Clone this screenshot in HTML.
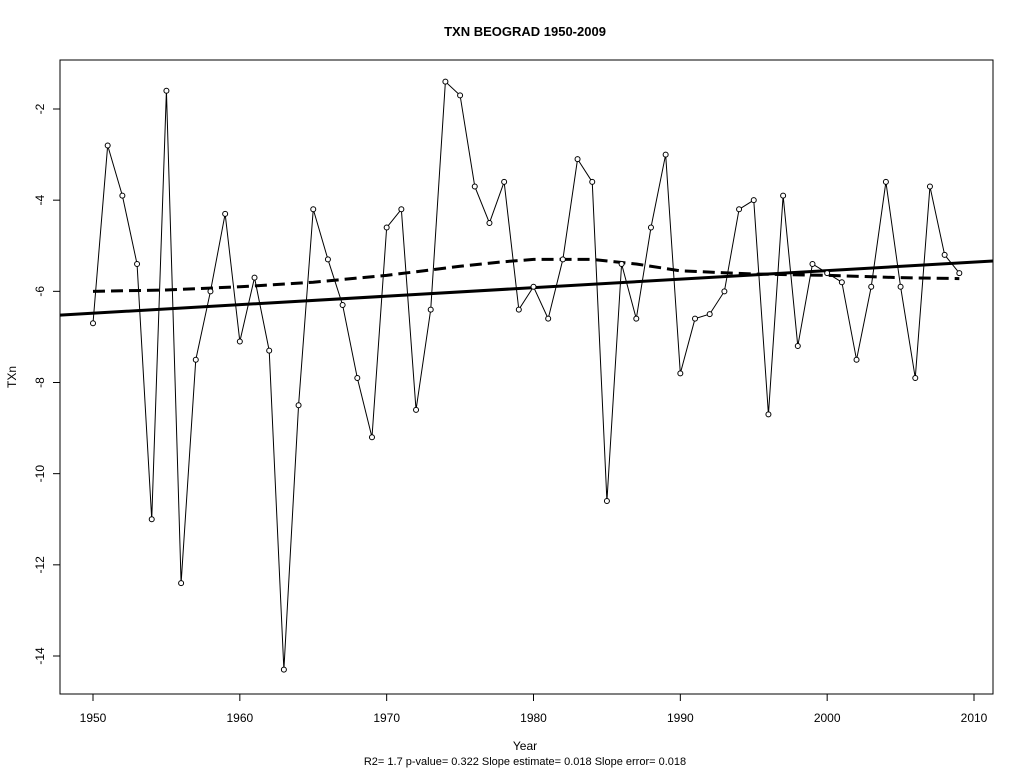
<!DOCTYPE html>
<html><head><meta charset="utf-8"><style>
body{margin:0;background:#fff}
svg{display:block;font-family:"Liberation Sans",Arial,sans-serif}
</style></head><body>
<svg id="chart" width="1024" height="768" viewBox="0 0 1024 768">
<rect width="1024" height="768" fill="#fff"/>
<text x="525" y="36" text-anchor="middle" font-size="13" font-weight="bold">TXN   BEOGRAD 1950-2009</text>
<rect x="60" y="60" width="933" height="634" fill="none" stroke="#000" stroke-width="1"/>
<g id="xaxis"></g>
<g id="yaxis"></g>
<g id="marks"></g>
<text x="525" y="750" text-anchor="middle" font-size="12">Year</text>
<text x="525" y="765" text-anchor="middle" font-size="11">R2= 1.7  p-value= 0.322  Slope estimate= 0.018  Slope error= 0.018</text>
<text x="16" y="377" text-anchor="middle" font-size="12" transform="rotate(-90 16 377)">TXn</text>
</svg>
<script>
const years = [1950,1951,1952,1953,1954,1955,1956,1957,1958,1959,1960,1961,1962,1963,1964,1965,1966,1967,1968,1969,1970,1971,1972,1973,1974,1975,1976,1977,1978,1979,1980,1981,1982,1983,1984,1985,1986,1987,1988,1989,1990,1991,1992,1993,1994,1995,1996,1997,1998,1999,2000,2001,2002,2003,2004,2005,2006,2007,2008,2009];
const txn = [-6.7,-2.8,-3.9,-5.4,-11.0,-1.6,-12.4,-7.5,-6.0,-4.3,-7.1,-5.7,-7.3,-14.3,-8.5,-4.2,-5.3,-6.3,-7.9,-9.2,-4.6,-4.2,-8.6,-6.4,-1.4,-1.7,-3.7,-4.5,-3.6,-6.4,-5.9,-6.6,-5.3,-3.1,-3.6,-10.6,-5.4,-6.6,-4.6,-3.0,-7.8,-6.6,-6.5,-6.0,-4.2,-4.0,-8.7,-3.9,-7.2,-5.4,-5.6,-5.8,-7.5,-5.9,-3.6,-5.9,-7.9,-3.7,-5.2,-5.6];
const lowessYears = [1950,1955,1960,1965,1970,1975,1978,1980,1984,1987,1990,1995,2000,2005,2009];
const lowessVals = [-6.0,-5.97,-5.9,-5.8,-5.65,-5.45,-5.35,-5.3,-5.3,-5.4,-5.55,-5.62,-5.65,-5.7,-5.72];
const trendIntercept1950 = -6.48;
const trendSlope = 0.0187;
const xTicks = [1950,1960,1970,1980,1990,2000,2010];
const yTicks = [-2,-4,-6,-8,-10,-12,-14];

const NS = "http://www.w3.org/2000/svg";
const X = y => 93 + (y - 1950) * (881 / 60);
const Y = v => 109 + (-2 - v) * (547 / 12);
const X0 = 60, X1 = 993;
const invX = px => 1950 + (px - 93) * 60 / 881;
function mk(tag, attrs, parent){const e=document.createElementNS(NS,tag);for(const k in attrs)e.setAttribute(k,attrs[k]);parent.appendChild(e);return e;}

const xa = document.getElementById('xaxis');
xTicks.forEach(t=>{
  const l = mk('line',{x1:X(t),x2:X(t),y1:694,y2:701,stroke:'#000'},xa);
  
  
  const tx = mk('text',{x:X(t),y:722,'text-anchor':'middle','font-size':12},xa);
  tx.textContent = t;
  
  
});
const ya = document.getElementById('yaxis');
yTicks.forEach(t=>{
  const l = mk('line',{x1:53,x2:60,y1:Y(t),y2:Y(t),stroke:'#000'},ya);
  
  
  const tx = mk('text',{x:44,y:Y(t),'text-anchor':'middle','font-size':12,transform:`rotate(-90 44 ${Y(t)})`},ya);
  tx.textContent = t;
  
  
});

const m = document.getElementById('marks');
const ser = mk('polyline',{points:years.map((y,i)=>X(y)+','+Y(txn[i])).join(' '),fill:'none',stroke:'#000','stroke-width':1},m);


const t0 = invX(X0), t1 = invX(X1);
const tr = mk('line',{x1:X0,y1:Y(trendIntercept1950+trendSlope*(t0-1950)),x2:X1,y2:Y(trendIntercept1950+trendSlope*(t1-1950)),stroke:'#000','stroke-width':3},m);


const lw = mk('polyline',{points:lowessYears.map((y,i)=>X(y)+','+Y(lowessVals[i])).join(' '),fill:'none',stroke:'#000','stroke-width':3,'stroke-dasharray':'12,6'},m);


years.forEach((y,i)=>{
  const c = mk('circle',{cx:X(y),cy:Y(txn[i]),r:2.5,fill:'#fff',stroke:'#000','stroke-width':1},m);
  
  
});
</script>
</body></html>
